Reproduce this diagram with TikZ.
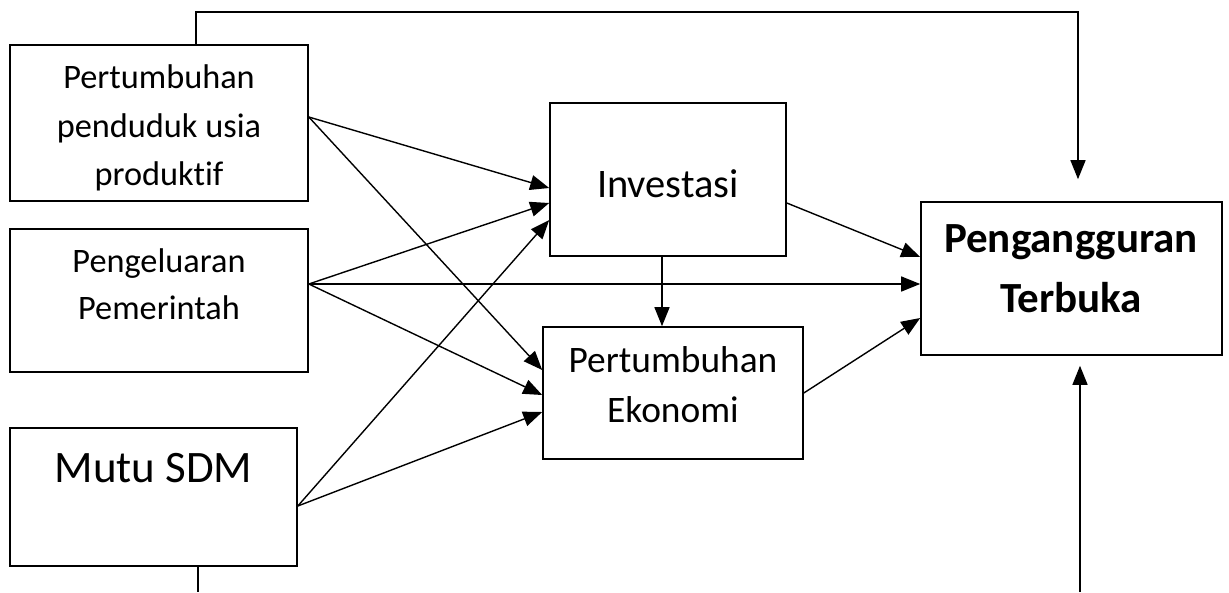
\documentclass[tikz,border=0pt]{standalone}
\usepackage{fontspec}
\setmainfont{Carlito}[Ligatures={NoCommon,NoRequired,NoContextual}]
\usetikzlibrary{arrows.meta,calc}
\begin{document}
\begin{tikzpicture}[x=1pt,y=-1pt,
  box/.style={draw,line width=1.6pt,rectangle,inner sep=0pt},
  txt/.style={inner sep=0pt,align=center},
  arr/.style={line width=1.4pt,-{Triangle[length=19pt,width=15pt]}},
  ln/.style={line width=1.4pt}]
\useasboundingbox (0,0) rectangle (1229,592);
% boxes
\node[box,minimum width=298pt,minimum height=156pt] (b1) at (159,123) {};
\node[box,minimum width=298pt,minimum height=143pt] (b2) at (159,300.5) {};
\node[box,minimum width=287pt,minimum height=138pt] (b3) at (153.5,497) {};
\node[box,minimum width=236pt,minimum height=153pt] (inv) at (668,179.5) {};
\node[box,minimum width=260pt,minimum height=132pt] (pe) at (673,393) {};
\node[box,minimum width=301pt,minimum height=153pt] (peng) at (1071.5,278.5) {};
% texts
\node[txt,font=\fontsize{34.3}{48.5}\selectfont] (t1) at (159,128) {Pertumbuhan\\penduduk usia\\produktif};
\node[txt,font=\fontsize{34.3}{47}\selectfont] (t2) at (159,284.5) {Pengeluaran\\Pemerintah};
\node[txt,anchor=base,font=\fontsize{45}{52}\selectfont] (t3) at (153.5,482) {Mutu SDM};
\node[txt,anchor=base,font=\fontsize{40.5}{46}\selectfont] (t4) at (668,197) {Investasi};
\node[txt,font=\fontsize{37.4}{50}\selectfont] (t5) at (673,385) {Pertumbuhan\\Ekonomi};
\node[txt,font=\bfseries\fontsize{43}{60}\selectfont] (t6) at (1071,268.5) {Pengangguran\\Terbuka};
% arrows from box1
\draw[arr] ([yshift=6pt]b1.east) -- ([yshift=-8.5pt]inv.west);
\draw[arr] ([yshift=6pt]b1.east) -- ([yshift=23pt]pe.west);
% arrows from box2
\draw[arr] ([yshift=16.5pt]b2.east) -- ([yshift=-23.5pt]inv.west);
\draw[arr] ([yshift=16.5pt]b2.east) -- ([yshift=-5.5pt]peng.west);
\draw[arr] ([yshift=16.5pt]b2.east) -- ([yshift=-2pt]pe.west);
% arrows from box3
\draw[arr] ([yshift=-9pt]b3.east) -- ([yshift=-40.5pt]inv.west);
\draw[arr] ([yshift=-9pt]b3.east) -- ([yshift=-19pt]pe.west);
% middle arrows
\draw[arr] ([xshift=-6pt]inv.south) -- ([xshift=-6pt]inv.south |- pe.north);
\draw[arr] ([yshift=-23.5pt]inv.east) -- ([yshift=21.5pt]peng.west);
\draw[arr] (pe.east) -- ([yshift=-39.5pt]peng.west);
% top connector
\coordinate (tr) at (1078,12);
\draw[arr] ([xshift=37pt]b1.north) |- (tr) -- ([yshift=22pt]peng.north -| tr);
% bottom connectors
\coordinate (bl) at (198,592);
\coordinate (br) at (1080,592);
\draw[ln] (b3.south -| bl) -- (bl);
\draw[arr] (br) -- ([yshift=-10pt]peng.south -| br);
\end{tikzpicture}
\end{document}
